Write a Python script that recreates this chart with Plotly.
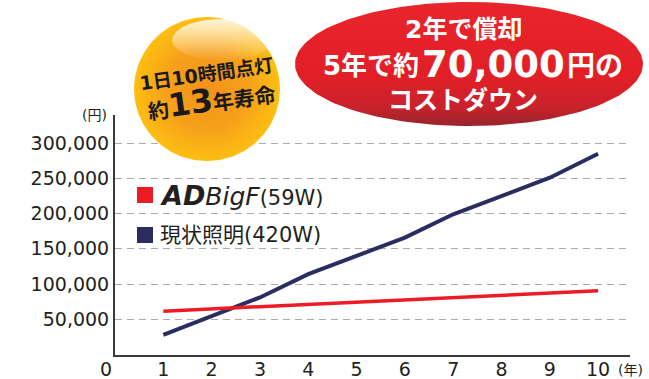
import numpy as np
import plotly.graph_objects as go

# ---- data -------------------------------------------------------------
years = [1, 2, 3, 4, 5, 6, 7, 8, 9, 10]
adbigf_cost = [61500, 64700, 67900, 71100, 74300, 77500, 80800, 84000, 87200, 90500]
current_cost = [28000, 54000, 81000, 114000, 140000, 166000, 199000, 225000, 251000, 285000]

y_tick_values = [50000, 100000, 150000, 200000, 250000, 300000]
y_tick_labels = ["50,000", "100,000", "150,000", "200,000", "250,000", "300,000"]
x_tick_labels = ["1", "2", "3", "4", "5", "6", "7", "8", "9", "10"]

# ---- layout constants (pixels) ------------------------------------------
W, H = 649, 379
PL, PR, PT, PB = 115, 630, 115, 354.5
BASE_FONT = "DejaVu Sans, Noto Sans CJK JP, sans-serif"
TEXT_DARK = "#231F20"
RED = "#ED1C24"
NAVY = "#2B2D62"

fig = go.Figure()

# cost lines
fig.add_trace(go.Scatter(
    x=years, y=current_cost, mode="lines",
    line=dict(color=NAVY, width=4), xaxis="x", yaxis="y",
    showlegend=False, hoverinfo="skip"))
fig.add_trace(go.Scatter(
    x=years, y=adbigf_cost, mode="lines",
    line=dict(color=RED, width=3.5), xaxis="x", yaxis="y",
    showlegend=False, hoverinfo="skip"))


def ellipse(cx, cy, rx, ry, n=180):
    t = np.linspace(0, 2 * np.pi, n)
    return cx + rx * np.cos(t), cy + ry * np.sin(t)


# decorative badge: orange ball
bx, by = ellipse(207, 89, 73, 72)
fig.add_trace(go.Scatter(
    x=bx, y=by, mode="lines", line=dict(width=0), fill="toself",
    fillgradient=dict(type="radial",
                      colorscale=[[0, "#F39219"], [0.55, "#F6A01A"], [1, "#FDBE12"]]),
    xaxis="x2", yaxis="y2", showlegend=False, hoverinfo="skip"))
hx, hy = ellipse(222, 40, 50, 21)
fig.add_trace(go.Scatter(
    x=hx, y=hy, mode="lines", line=dict(width=0), fill="toself",
    fillgradient=dict(type="vertical", start=19, stop=61,
                      colorscale=[[0, "rgba(255,255,255,0.85)"], [1, "rgba(255,255,255,0)"]]),
    xaxis="x2", yaxis="y2", showlegend=False, hoverinfo="skip"))

# decorative badge: red ellipse
ex, ey = ellipse(469, 64, 174, 62)
fig.add_trace(go.Scatter(
    x=ex, y=ey, mode="lines", line=dict(width=0), fill="toself",
    fillgradient=dict(type="vertical", start=2, stop=126,
                      colorscale=[[0, "#E8252B"], [0.6, "#E21F27"],
                                  [0.85, "#C8222B"], [1, "#98242E"]]),
    xaxis="x2", yaxis="y2", showlegend=False, hoverinfo="skip"))

# legend swatches
shapes = [
    dict(type="rect", xref="x2", yref="y2", x0=137, x1=153, y0=187, y1=203,
         fillcolor=RED, line=dict(width=0), layer="above"),
    dict(type="rect", xref="x2", yref="y2", x0=137, x1=153, y0=227, y1=243,
         fillcolor=NAVY, line=dict(width=0), layer="above"),
]


def note(x, y, text, size, color=TEXT_DARK, xanchor="center", angle=0, weight="normal"):
    return dict(x=x, y=y, xref="x2", yref="y2", text=text, showarrow=False,
                xanchor=xanchor, yanchor="middle", textangle=angle,
                font=dict(family=BASE_FONT, size=size, color=color, weight=weight))


annotations = [
    # badge texts
    note(206, 74, "1日10時間点灯", 19, color="#1A1A1A", angle=-8, weight="bold"),
    note(211, 100, "約<span style='font-size:32px'>13</span>年寿命", 21,
         color="#1A1A1A", angle=-8, weight="bold"),
    note(463, 29, "2年で償却", 25, color="white", weight="bold"),
    note(421, 66, "5年で約", 26, color="white", xanchor="right", weight="bold"),
    note(493, 64, "70,000", 37, color="white", weight="bold"),
    note(565, 66, "円の", 28, color="white", xanchor="left", weight="bold"),
    note(463, 100, "コストダウン", 25, color="white", weight="bold"),
    # legend labels
    note(158, 195, "<b><i>AD</i></b><i><span style='font-size:25px'>BigF</span></i>"
                   "<span style='font-size:21px'>(59W)</span>", 27, xanchor="left"),
    note(158, 235, "現状照明(420W)", 21, xanchor="left"),
    # axis captions
    note(109, 115, "(円)", 14, xanchor="right"),
    note(630, 370, "(年)", 14),
    note(106, 369, "0", 19),
]

fig.update_layout(
    width=W, height=H,
    margin=dict(l=0, r=0, t=0, b=0),
    paper_bgcolor="white",
    plot_bgcolor="rgba(0,0,0,0)",
    font=dict(family=BASE_FONT, color=TEXT_DARK),
    xaxis=dict(
        domain=[PL / W, PR / W], range=[0, 10.66], anchor="y",
        tickvals=years, ticktext=x_tick_labels,
        tickfont=dict(size=19, color=TEXT_DARK), ticks="", ticklabelstandoff=-3,
        showgrid=False, zeroline=False,
        showline=True, linecolor="#3A3A3A", linewidth=2,
        automargin=False, fixedrange=True),
    yaxis=dict(
        domain=[(H - PB) / H, (H - PT) / H], range=[0, 340000], anchor="x",
        tickvals=y_tick_values, ticktext=y_tick_labels,
        tickfont=dict(size=19, color=TEXT_DARK), ticks="", ticklabelstandoff=0,
        showgrid=True, gridcolor="#ABABAB", gridwidth=1.3, griddash="7px,5px",
        zeroline=False,
        showline=True, linecolor="#3A3A3A", linewidth=2,
        automargin=False, fixedrange=True),
    xaxis2=dict(domain=[0, 1], range=[0, W], anchor="y2", visible=False, fixedrange=True),
    yaxis2=dict(domain=[0, 1], range=[H, 0], anchor="x2", visible=False, fixedrange=True),
    shapes=shapes,
    annotations=annotations,
    showlegend=False,
)

fig.write_html("out.html")
